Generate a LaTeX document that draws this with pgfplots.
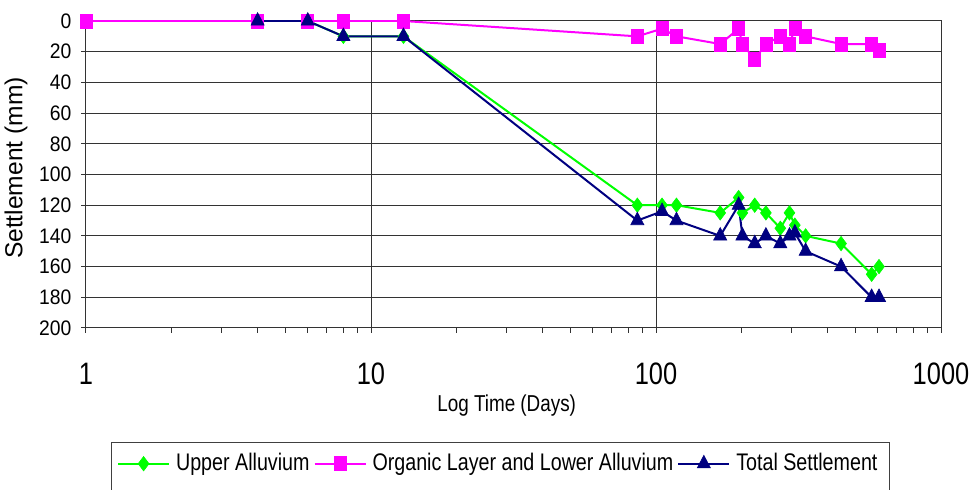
\documentclass[border=0pt]{standalone}
\usepackage{pgfplots}
\pgfplotsset{compat=1.18}
\usepackage{fontspec}
\setmainfont[FakeStretch=0.82]{Liberation Sans}
\newfontfamily\ytfont[FakeStretch=0.92]{Liberation Sans}
\newfontfamily\ylabfont{Liberation Sans}
\definecolor{cgreen}{RGB}{0,255,0}
\definecolor{cmag}{RGB}{255,0,255}
\definecolor{cnavy}{RGB}{0,0,128}
\begin{document}
\begin{tikzpicture}
\useasboundingbox (-43pt,-81pt) rectangle (446pt,164pt);
\begin{axis}[
  at={(0,0)}, anchor=south west,
  scale only axis, width=427.5pt, height=153.5pt,
  xmode=log, xmin=1, xmax=1000,
  ymin=0, ymax=200, y dir=reverse,
  xtick={1,10,100,1000}, xticklabels={1,10,100,1000},
  minor xtick={2,3,4,5,6,7,8,9,20,30,40,50,60,70,80,90,200,300,400,500,600,700,800,900},
  ytick={0,20,...,200},
  xtick pos=left, ytick pos=left,
  tick align=outside,
  major tick length=2.5pt, minor tick length=2.5pt,
  grid=major,
  major grid style={black!80, line width=0.5pt},
  axis line style={black!80, line width=0.5pt},
  every tick/.style={black!80, line width=0.5pt},
  /pgf/number format/assume math mode=true,
  xticklabel style={font=\fontsize{15.5pt}{18pt}\selectfont, anchor=base, inner sep=0pt, yshift=-25.8pt},
  yticklabel style={font=\ytfont\fontsize{10.5pt}{12pt}\selectfont, anchor=east, inner sep=0pt, xshift=-4.6pt},
  xlabel={Log Time (Days)},
  xlabel style={font=\fontsize{11.5pt}{14pt}\selectfont, at={(axis description cs:0.492,-0.2704)}, anchor=base, inner sep=0pt},
  ylabel={Settlement (mm)},
  ylabel style={font=\ylabfont\fontsize{12.3pt}{14pt}\selectfont, at={(axis description cs:-0.0819,0.521)}, anchor=center, inner sep=0pt},
  legend columns=3,
  legend style={draw=none, fill=none, inner sep=0pt,
    at={(axis description cs:0.0359,-0.442)}, anchor=west,
    font=\fontsize{12pt}{14pt}\selectfont,
    nodes={inner sep=0pt},
    /tikz/every odd column/.style={column sep=3pt},
    /tikz/every even column/.style={column sep=2pt}},
  legend image code/.code={\draw[mark repeat=2, mark phase=2] plot coordinates {(0pt,0pt) (12.75pt,0pt) (25.5pt,0pt)};},
]
\addplot[cgreen, line width=1pt, mark=diamond*, mark size=3.6pt, mark options={solid, line width=0.3pt, fill=cgreen}] coordinates {
(4,0) (6,0) (8,10) (13,10) (86,120) (105,120) (118,120) (168,125) (195,115) (201,125) (222,120) (243,125) (273,135) (294,125) (307,133) (335,140) (446,145) (571,165) (606,160)
};
\addlegendentry{Upper Alluvium}
\addplot[cmag, line width=1pt, mark=square*, mark size=3pt, mark options={solid, line width=0.3pt, fill=cmag, yscale=1.15}] coordinates {
(1,0) (4,0) (6,0) (8,0) (13,0) (86,10) (105,5) (118,10) (168,15) (195,5) (201,15) (222,25) (243,15) (273,10) (294,15) (307,5) (335,10) (446,15) (571,15) (606,19)
};
\addlegendentry{Organic Layer and Lower Alluvium}
\addplot[cnavy, line width=1pt, mark=triangle*, mark size=3.8pt, mark options={solid, line width=0.3pt, fill=cnavy, yscale=1.1}] coordinates {
(4,0) (6,0) (8,10) (13,10) (86,130) (105,124) (118,130) (168,140) (195,120) (201,140) (222,145) (243,140) (273,145) (294,140) (307,138) (335,150) (446,160) (571,180) (606,180)
};
\addlegendentry{Total Settlement}
\end{axis}
\draw[black!75, line width=0.5pt] (12.85pt,-57.35pt) rectangle (401.5pt,-84pt);
\end{tikzpicture}
\end{document}
